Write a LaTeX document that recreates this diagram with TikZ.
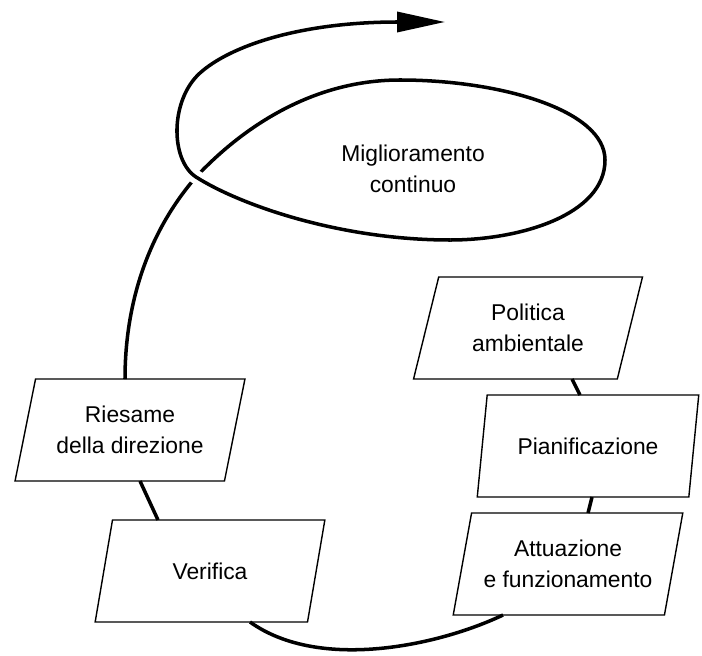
\documentclass[tikz,border=0pt]{standalone}
\usepackage{fontspec}
\setmainfont{Liberation Sans}
\usetikzlibrary{arrows.meta, shapes.geometric}

\begin{document}
\begin{tikzpicture}[
  x=0.02cm, y=-0.02cm,
  every node/.style={font=\fontsize{13}{17.6}\selectfont},
  phase/.style={
    trapezium, trapezium stretches=true,
    trapezium left angle=73, trapezium right angle=107,
    draw=black, line width=0.8pt,
    minimum width=4.6cm, minimum height=2.04cm,
    align=center, inner sep=2pt
  },
  ringline/.style={draw=black, line width=2pt},
  arr/.style={ringline, -{Triangle[length=0.96cm, width=0.4cm]}}
]
\useasboundingbox (0,0) rectangle (702,655);

\node[align=center] (mc) at (413,169) {Miglioramento\\continuo};
\node[phase] (pol) at (528,328) {Politica\\ambientale};
\node[phase, minimum width=4.44cm] (pia) at (588,446) {Pianificazione};
\node[phase] (att) at (568,564) {Attuazione\\e funzionamento};
\node[phase] (ver) at (210,571) {Verifica};
\node[phase] (ries) at (130,430) {Riesame\\della direzione};

% cerchio esterno
\draw[ringline] ([shift={(44,51)}]pol.center) -- ([shift={(-8,-51)}]pia.center);
\draw[ringline] ([shift={(4,51)}]pia.center) -- ([shift={(20,-51)}]att.center);
\draw[ringline] ([shift={(-65,51)}]att.center) .. controls (440,645) and (320,672) .. ([shift={(40,51)}]ver.center);
\draw[ringline] ([shift={(-52,-51)}]ver.center) -- ([shift={(10,51)}]ries.center);

% spirale
\draw[ringline] ([shift={(-5,-51)}]ries.center) .. controls (125,300) and (150,230) .. (196,177)
  .. controls (240,130) and (310,80) .. (400,80)
  .. controls (500,80) and (605,110) .. (605,160)
  .. controls (605,215) and (520,240) .. (450,240);
\draw[arr, preaction={draw=white, line width=8pt, arrows=-}] (450,240)
  .. controls (340,240) and (240,205) .. (196,177)
  .. controls (170,160) and (170,100) .. (200,73)
  .. controls (230,46) and (300,22) .. (445,22);
\end{tikzpicture}
\end{document}
